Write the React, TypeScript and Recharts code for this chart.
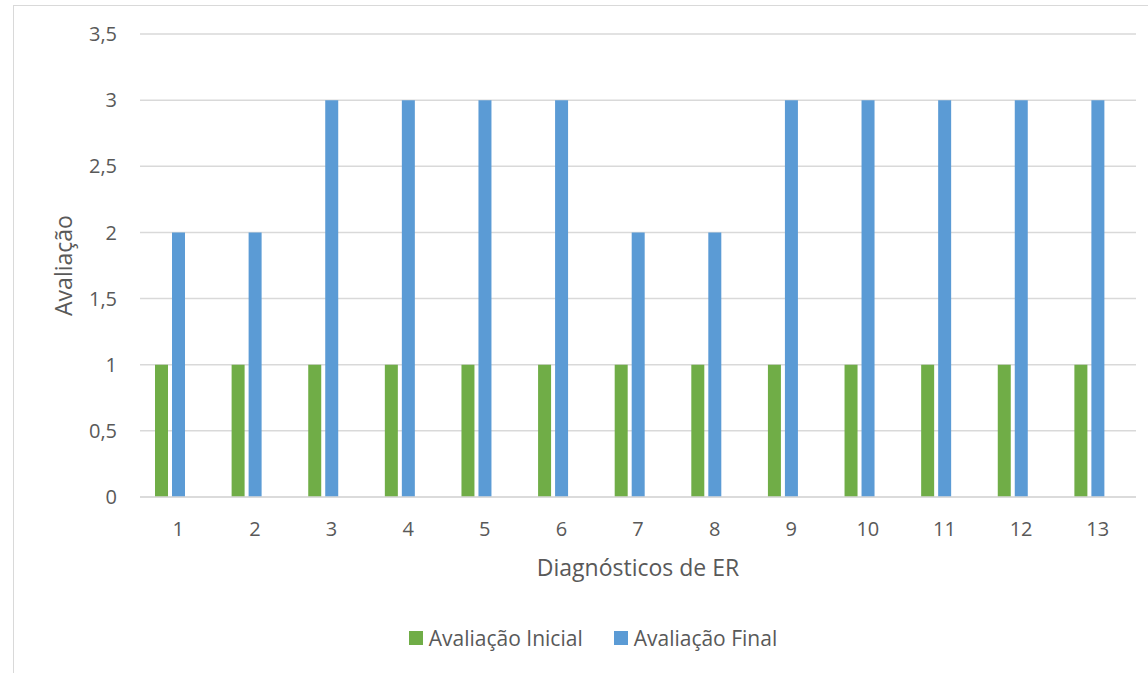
import React from 'react'
import { BarChart, Bar, XAxis, YAxis, CartesianGrid, Legend } from 'recharts'

const diagnosticos = ['1', '2', '3', '4', '5', '6', '7', '8', '9', '10', '11', '12', '13']
const avaliacaoInicial = [1, 1, 1, 1, 1, 1, 1, 1, 1, 1, 1, 1, 1]
const avaliacaoFinal = [2, 2, 3, 3, 3, 3, 2, 2, 3, 3, 3, 3, 3]
const yTicks = [0, 0.5, 1, 1.5, 2, 2.5, 3, 3.5]

const FONT = '"Open Sans", "Noto Sans", sans-serif'
const TEXT = '#595959'
const GRID = '#d9d9d9'

const series = [
  { key: 'inicial', name: 'Avaliação Inicial', color: '#70AD47' },
  { key: 'final', name: 'Avaliação Final', color: '#5B9BD5' },
]

// third slot stays empty so each pair sits left of the category centre
const data = diagnosticos.map((d, i) => ({
  diag: d,
  inicial: avaliacaoInicial[i],
  final: avaliacaoFinal[i],
  vazio: null,
}))

const fmt = (v: number) => String(v).replace('.', ',')

function LegendBox() {
  return (
    <div style={{ display: 'flex', justifyContent: 'center', gap: 31, fontFamily: FONT, fontSize: 21, color: TEXT, marginTop: 1, paddingLeft: 50 }}>
      {series.map(s => (
        <div key={s.key} style={{ display: 'flex', alignItems: 'center' }}>
          <span style={{ width: 14, height: 14, background: s.color, marginRight: 6, display: 'inline-block' }} />
          <span>{s.name}</span>
        </div>
      ))}
    </div>
  )
}

export default function App() {
  return (
    <div style={{ position: 'fixed', left: 0, top: 0, width: 1148, height: 673, overflow: 'hidden', background: '#fff' }}>
      <div style={{ position: 'absolute', left: 13, top: 5, width: 1160, height: 700, border: `1px solid ${GRID}` }} />
      <div style={{ position: 'absolute', left: 0, top: 0 }}>
        <BarChart
          width={1148}
          height={673}
          data={data}
          margin={{ top: 34, right: 12, bottom: 20, left: 0 }}
          barSize={13}
          barGap={4}
        >
          <CartesianGrid vertical={false} stroke={GRID} strokeWidth={1.5} />
          <XAxis
            dataKey="diag"
            axisLine={{ stroke: GRID, strokeWidth: 1.5 }}
            tickLine={false}
            tickMargin={19}
            height={126}
            tick={{ fill: TEXT, fontSize: 20, fontFamily: FONT }}
            label={{ value: 'Diagnósticos de ER', position: 'insideBottom', offset: 47, fill: TEXT, fontSize: 23, fontFamily: FONT }}
          />
          <YAxis
            width={140}
            domain={[0, 3.5]}
            ticks={yTicks}
            tickFormatter={fmt}
            axisLine={false}
            tickLine={false}
            tickMargin={17}
            tick={{ fill: TEXT, fontSize: 20, fontFamily: FONT }}
            label={{ value: 'Avaliação', angle: -90, position: 'insideLeft', offset: 64, fill: TEXT, fontSize: 23, fontFamily: FONT, style: { textAnchor: 'middle' } }}
          />
          <Legend verticalAlign="bottom" height={30} content={() => <LegendBox />} />
          {series.map(s => (
            <Bar key={s.key} dataKey={s.key} name={s.name} fill={s.color} isAnimationActive={false} />
          ))}
          <Bar dataKey="vazio" legendType="none" fill="transparent" isAnimationActive={false} />
        </BarChart>
      </div>
    </div>
  )
}
